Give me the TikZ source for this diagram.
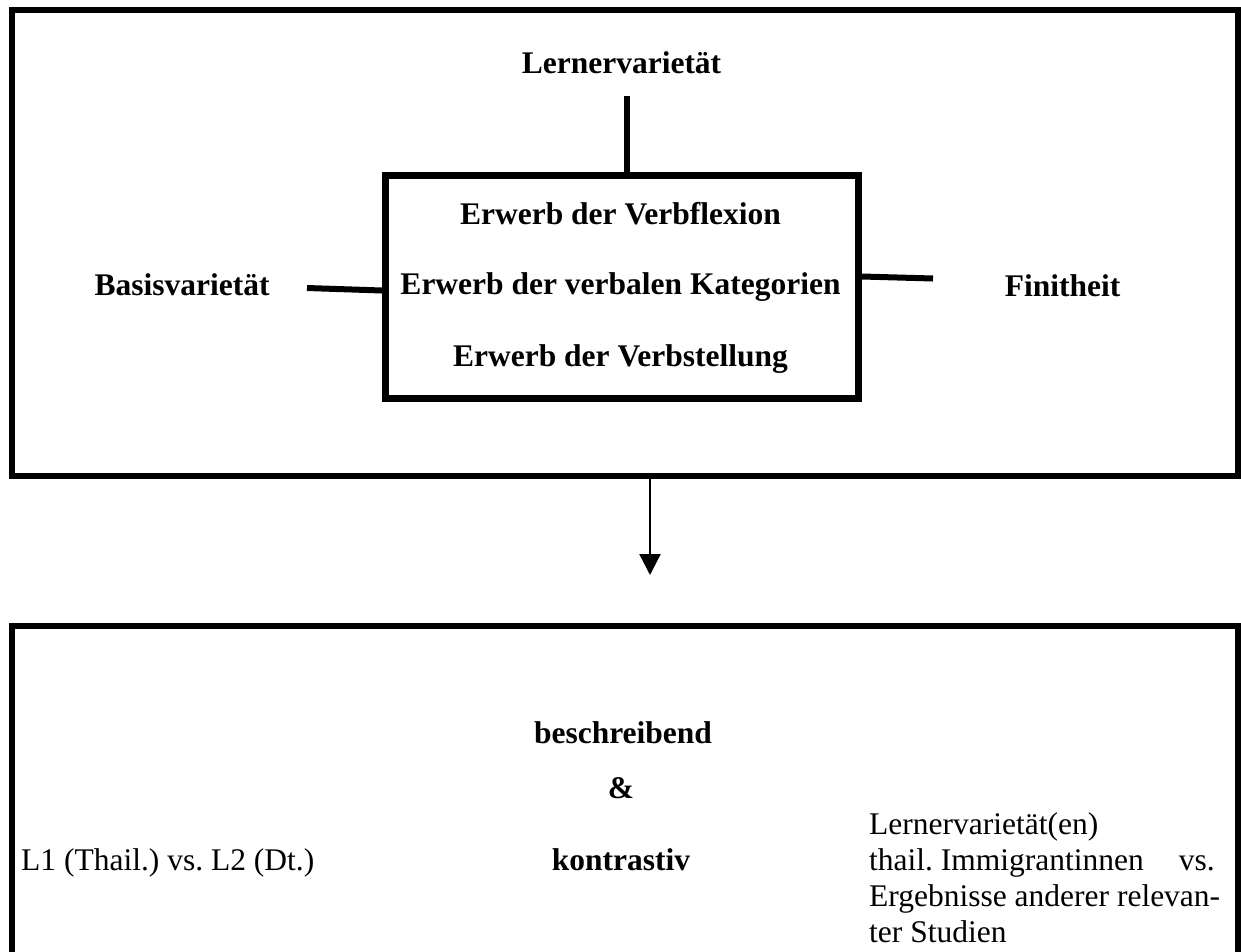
\documentclass[tikz,border=0pt]{standalone}
\usepackage{fontspec}
\setmainfont{Liberation Serif}
\usetikzlibrary{arrows.meta}
\tikzset{
  frame/.style={draw, line width=6pt, inner sep=0pt},
  corebox/.style={draw, line width=7pt, inner sep=0pt},
  conn/.style={line width=6pt},
  flow/.style={line width=2.3pt, -{Triangle[length=21pt,width=21pt]}},
  lbl/.style={inner sep=0pt, anchor=base, font=\fontsize{31.5}{36}\selectfont\bfseries},
  txt/.style={inner sep=0pt, anchor=base west, font=\fontsize{31.5}{36}\selectfont},
}
\begin{document}
\frenchspacing
\begin{tikzpicture}[x=1pt,y=-1pt]
\useasboundingbox (0,0) rectangle (1241,951);
\clip (0,0) rectangle (1241,951);
% frames
\node[frame, minimum width=1226pt, minimum height=466pt] (top) at (625,243) {};
\node[corebox, minimum width=473pt, minimum height=223pt] (core) at (622,287) {};
\node[frame, minimum width=1226pt, minimum height=460pt] (res) at (625,856) {};
% top labels
\node[lbl] (lv) at (621.5,73) {Lernervarietät};
\node[lbl] (bv) at (182,295) {Basisvarietät};
\node[lbl] (fin) at (1062.5,296) {Finitheit};
\node[lbl] (e1) at (620.5,224.5) {Erwerb der Verbflexion};
\node[lbl] (e2) at (620.5,294.5) {Erwerb der verbalen Kategorien};
\node[lbl] (e3) at (620.5,366.5) {Erwerb der Verbstellung};
% connectors
\coordinate (lvend) at (627,96);
\coordinate (bvend) at (307,288);
\coordinate (finend) at (933,278.5);
\draw[conn] (lvend) -- (lvend |- core.north);
\draw[conn] (bvend) -- (core.west |- 0,290.5);
\draw[conn] (core.east |- 0,276.5) -- (finend);
% arrow
\coordinate (tip) at (650,575);
\draw[flow] (tip |- top.south) -- (tip);
% bottom texts
\node[lbl] (b1) at (623,743) {beschreibend};
\node[lbl] (b2) at (621,798) {\&};
\node[lbl] (b3) at (621,870) {kontrastiv};
\node[txt] (l1) at (21,870) {L1 (Thail.) vs. L2 (Dt.)};
\node[txt] (r1) at (869,834) {Lernervarietät(en)};
\node[txt] (r2) at (869,870) {thail. Immigrantinnen\hspace{35pt}vs.};
\node[txt] (r3) at (869,906) {Ergebnisse anderer relevan-};
\node[txt] (r4) at (869,942) {ter Studien};
\end{tikzpicture}
\end{document}
